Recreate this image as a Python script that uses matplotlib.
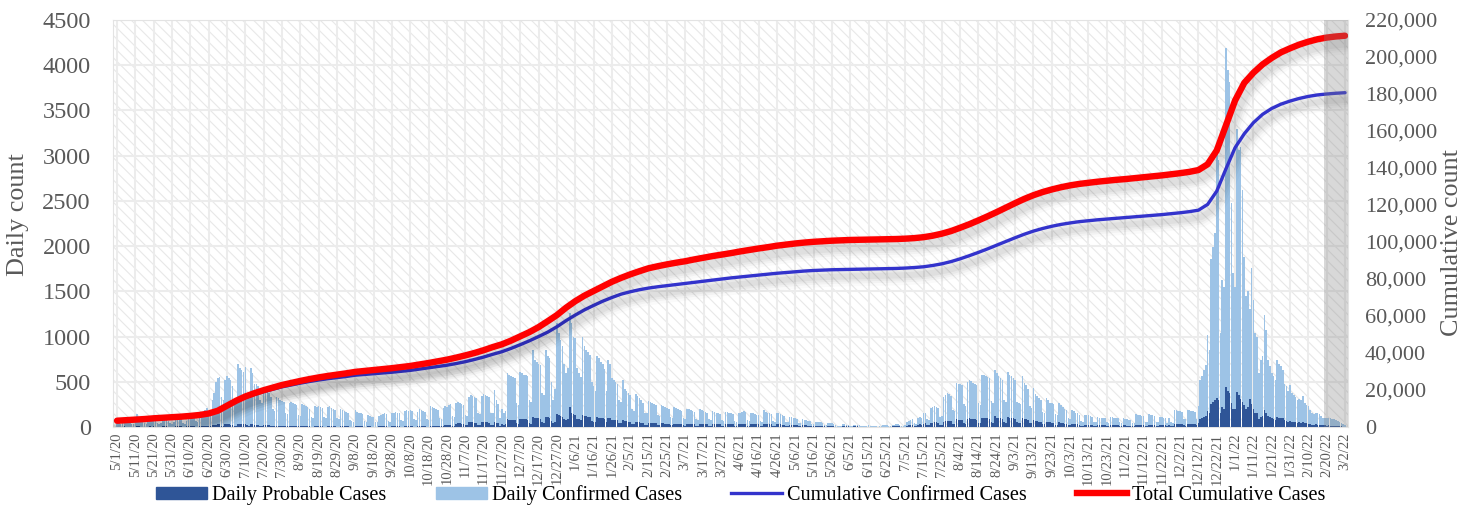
import numpy as np
import pandas as pd
import matplotlib
matplotlib.use('Agg')
import matplotlib.pyplot as plt
import matplotlib.patheffects as pe
from matplotlib.patches import Rectangle
from matplotlib.lines import Line2D
from matplotlib.ticker import FuncFormatter, MultipleLocator

# daily counts, one row = 10 days starting 5/1/20
START = '2020-05-01'

confirmed = [
    70, 40, 35, 60, 75, 80, 70, 65, 35, 30,
    55, 145, 80, 75, 70, 40, 30, 60, 75, 70,
    80, 75, 40, 30, 45, 70, 80, 75, 70, 40,
    35, 60, 85, 80, 90, 85, 45, 35, 70, 95,
    100, 110, 120, 70, 60, 130, 150, 170, 190, 210,
    180, 160, 300, 380, 500, 540, 555, 330, 300, 520,
    560, 540, 520, 450, 300, 280, 700, 650, 630, 610,
    660, 380, 350, 650, 600, 470, 480, 450, 300, 260,
    420, 410, 400, 380, 330, 200, 180, 330, 320, 300,
    290, 280, 150, 140, 270, 280, 260, 250, 240, 130,
    120, 250, 240, 230, 220, 200, 110, 100, 230, 220,
    230, 220, 210, 110, 100, 220, 230, 210, 200, 190,
    100, 90, 200, 190, 180, 170, 160, 80, 70, 60,
    190, 170, 160, 150, 140, 70, 60, 130, 120, 110,
    110, 60, 50, 120, 130, 140, 150, 140, 70, 60,
    150, 160, 170, 160, 150, 80, 70, 180, 190, 180,
    190, 180, 90, 80, 170, 200, 190, 180, 170, 90,
    80, 230, 220, 210, 200, 190, 100, 90, 210, 230,
    220, 240, 250, 120, 110, 260, 280, 270, 250, 240,
    130, 120, 330, 350, 340, 330, 320, 150, 140, 340,
    360, 350, 340, 330, 160, 150, 410, 300, 250, 100,
    200, 150, 180, 600, 580, 560, 550, 540, 260, 240,
    610, 600, 580, 570, 560, 300, 280, 850, 740, 720,
    700, 680, 380, 350, 850, 790, 760, 500, 300, 420,
    1150, 1040, 960, 900, 700, 600, 650, 1260, 1150, 1000,
    980, 650, 600, 550, 1000, 900, 850, 830, 800, 500,
    450, 400, 780, 760, 720, 700, 640, 400, 740, 700,
    540, 520, 500, 480, 300, 280, 520, 420, 400, 380,
    350, 200, 180, 360, 340, 320, 300, 270, 160, 150,
    290, 280, 260, 250, 240, 130, 120, 240, 230, 220,
    210, 200, 110, 100, 220, 210, 200, 190, 180, 100,
    90, 200, 200, 190, 180, 170, 90, 80, 200, 190,
    180, 170, 160, 90, 80, 180, 170, 160, 150, 140,
    80, 70, 170, 170, 160, 150, 140, 70, 60, 160,
    160, 170, 175, 170, 80, 70, 160, 150, 140, 130,
    130, 70, 60, 190, 170, 160, 150, 140, 70, 60,
    160, 150, 140, 130, 120, 60, 50, 115, 110, 100,
    95, 90, 45, 40, 85, 80, 75, 70, 65, 35,
    30, 60, 60, 55, 50, 45, 25, 20, 45, 40,
    40, 35, 20, 15, 10, 15, 35, 30, 25, 25,
    10, 10, 25, 20, 20, 18, 15, 8, 8, 15,
    18, 15, 15, 12, 6, 5, 15, 15, 20, 18,
    20, 8, 6, 22, 25, 30, 28, 25, 10, 8,
    20, 60, 70, 80, 85, 40, 35, 100, 110, 105,
    150, 160, 90, 80, 210, 220, 230, 225, 215, 110,
    120, 330, 350, 375, 360, 340, 190, 180, 490, 480,
    470, 460, 250, 230, 500, 520, 510, 490, 470, 460,
    260, 240, 575, 570, 560, 555, 540, 290, 270, 630,
    600, 560, 540, 520, 300, 280, 610, 580, 560, 540,
    520, 280, 260, 250, 560, 490, 460, 420, 230, 210,
    430, 370, 340, 320, 300, 170, 160, 320, 300, 270,
    260, 250, 140, 130, 270, 240, 220, 200, 190, 100,
    90, 190, 180, 160, 150, 130, 70, 60, 130, 130,
    130, 120, 110, 55, 50, 110, 105, 100, 100, 95,
    50, 45, 110, 110, 105, 100, 95, 50, 45, 100,
    90, 85, 80, 80, 40, 40, 140, 135, 130, 120,
    120, 60, 55, 140, 135, 130, 120, 60, 55, 110,
    110, 105, 100, 40, 100, 50, 45, 190, 185, 180,
    175, 170, 90, 85, 190, 185, 180, 175, 170, 90,
    230, 520, 560, 630, 690, 1020, 850, 1860, 1990, 2140,
    3030, 2950, 1040, 1630, 1550, 4190, 3950, 3820, 2480, 1700,
    1550, 3300, 3060, 3100, 2620, 1880, 1450, 1500, 1300, 1760,
    1400, 1040, 990, 600, 740, 780, 1240, 1070, 740, 670,
    600, 560, 520, 740, 700, 670, 630, 480, 450, 400,
    460, 380, 350, 330, 300, 310, 300, 340, 260, 240,
    230, 190, 150, 140, 160, 150, 140, 120, 100, 100,
    95, 100, 95, 90, 85, 80, 70, 60, 40, 30,
    20,
]

probable = [
    5, 2, 2, 4, 6, 5, 4, 5, 2, 1,
    4, 8, 6, 5, 5, 2, 2, 5, 6, 5,
    6, 5, 2, 2, 3, 6, 7, 6, 5, 2,
    2, 5, 7, 6, 7, 6, 3, 2, 6, 8,
    8, 9, 10, 5, 4, 10, 12, 12, 14, 15,
    10, 8, 18, 20, 25, 28, 30, 15, 14, 28,
    30, 28, 26, 22, 14, 12, 35, 32, 30, 30,
    32, 18, 16, 30, 28, 24, 24, 22, 14, 12,
    20, 20, 19, 18, 16, 10, 9, 16, 15, 14,
    14, 13, 7, 7, 13, 14, 13, 12, 12, 6,
    6, 12, 12, 11, 11, 10, 5, 5, 11, 11,
    11, 11, 10, 5, 5, 11, 11, 10, 10, 9,
    5, 4, 10, 9, 9, 8, 8, 4, 3, 3,
    9, 8, 8, 7, 7, 3, 3, 6, 6, 5,
    5, 3, 3, 6, 6, 7, 7, 7, 3, 3,
    7, 8, 8, 8, 7, 4, 3, 9, 9, 9,
    9, 9, 4, 4, 8, 10, 10, 9, 8, 4,
    4, 15, 14, 14, 13, 12, 6, 6, 15, 18,
    18, 20, 22, 10, 10, 35, 40, 40, 38, 36,
    18, 17, 50, 52, 50, 48, 46, 22, 20, 50,
    55, 52, 50, 48, 24, 22, 60, 45, 40, 15,
    30, 25, 28, 85, 82, 80, 78, 76, 40, 38,
    90, 88, 86, 84, 82, 40, 38, 110, 100, 98,
    95, 92, 50, 48, 115, 110, 105, 70, 40, 60,
    140, 130, 120, 110, 90, 80, 90, 225, 160, 140,
    135, 90, 85, 80, 130, 125, 120, 115, 110, 70,
    60, 55, 110, 105, 100, 95, 90, 55, 100, 95,
    80, 78, 75, 72, 45, 42, 75, 65, 62, 60,
    55, 30, 28, 55, 52, 50, 48, 45, 25, 24,
    48, 46, 44, 42, 40, 22, 20, 42, 40, 38,
    36, 35, 18, 17, 38, 36, 35, 34, 32, 17,
    16, 36, 35, 34, 33, 32, 16, 15, 35, 34,
    33, 32, 31, 16, 15, 34, 33, 32, 31, 30,
    15, 14, 33, 32, 31, 30, 29, 14, 13, 32,
    32, 33, 34, 33, 16, 15, 32, 31, 30, 29,
    28, 14, 13, 35, 33, 32, 31, 30, 15, 14,
    30, 29, 28, 27, 26, 13, 12, 24, 23, 22,
    21, 20, 10, 9, 19, 18, 17, 16, 15, 8,
    7, 14, 14, 13, 12, 11, 6, 5, 11, 10,
    10, 9, 5, 4, 3, 4, 9, 8, 7, 7,
    3, 3, 7, 6, 6, 5, 5, 2, 2, 4,
    5, 4, 4, 4, 2, 2, 4, 4, 5, 5,
    5, 2, 2, 6, 7, 8, 8, 7, 3, 2,
    5, 15, 18, 20, 22, 10, 9, 25, 28, 27,
    38, 40, 20, 18, 45, 48, 50, 50, 48, 25,
    26, 60, 65, 70, 68, 65, 35, 33, 85, 82,
    80, 78, 40, 38, 90, 95, 92, 88, 85, 82,
    45, 42, 100, 98, 96, 94, 92, 50, 48, 120,
    105, 100, 96, 92, 50, 48, 110, 105, 100, 96,
    92, 50, 45, 44, 100, 90, 85, 80, 42, 40,
    80, 70, 65, 60, 56, 30, 28, 60, 56, 50,
    48, 46, 25, 24, 50, 45, 42, 38, 36, 18,
    17, 36, 34, 30, 28, 25, 13, 12, 25, 25,
    25, 23, 21, 11, 10, 21, 20, 19, 19, 18,
    9, 9, 21, 21, 20, 19, 18, 9, 9, 19,
    17, 16, 15, 15, 8, 8, 27, 26, 25, 23,
    23, 12, 11, 27, 26, 25, 23, 12, 11, 21,
    21, 20, 19, 8, 19, 10, 9, 36, 35, 34,
    33, 32, 17, 16, 36, 35, 34, 33, 32, 17,
    40, 90, 100, 110, 120, 180, 150, 250, 280, 300,
    320, 300, 150, 220, 200, 440, 400, 380, 260, 200,
    200, 390, 350, 310, 280, 240, 200, 220, 310, 250,
    200, 160, 150, 90, 110, 120, 190, 160, 120, 110,
    100, 90, 80, 110, 105, 100, 95, 75, 70, 60,
    70, 60, 55, 52, 48, 50, 48, 55, 42, 40,
    38, 32, 25, 24, 28, 26, 24, 20, 17, 17,
    16, 17, 16, 15, 14, 13, 12, 10, 7, 5,
    3,
]

# cumulative totals read every 5 days from 5/1/20
CUM_STEP = 5
cum_total = [
    3400, 3700, 4000, 4300, 4700, 5000, 5300, 5600, 6000, 6500,
    7300, 8800, 11500, 14200, 16500, 18300, 19900, 21300, 22700, 23800,
    24900, 25900, 26800, 27600, 28300, 29000, 29800, 30300, 30800, 31300,
    31800, 32400, 33000, 33800, 34600, 35500, 36400, 37500, 38700, 40000,
    41500, 43200, 44700, 46700, 49000, 51300, 54000, 57200, 60500, 64500,
    68000, 71000, 73500, 76000, 78500, 80600, 82500, 84200, 85800, 86900,
    87900, 88800, 89600, 90600, 91500, 92400, 93200, 94000, 94900, 95700,
    96500, 97200, 98000, 98600, 99200, 99700, 100100, 100400, 100700, 100900,
    101100, 101200, 101300, 101400, 101500, 101600, 101800, 102100, 102600, 103400,
    104500, 105900, 107700, 109600, 111700, 113900, 116200, 118600, 121000, 123300,
    125300, 127000, 128400, 129600, 130600, 131400, 132000, 132600, 133100, 133600,
    134000, 134500, 135000, 135500, 136000, 136600, 137200, 137900, 138900, 142000,
    149500, 163000, 176500, 186000, 191500, 196000, 199500, 202500, 204700, 206700,
    208300, 209600, 210500, 211100, 211500,
]
cum_confirmed = [
    3300, 3550, 3850, 4150, 4500, 4800, 5100, 5400, 5750, 6250,
    7000, 8500, 11100, 13700, 15900, 17600, 19100, 20400, 21700, 22700,
    23700, 24600, 25400, 26100, 26700, 27300, 28000, 28400, 28800, 29200,
    29600, 30100, 30600, 31300, 32000, 32700, 33400, 34300, 35300, 36500,
    37800, 39300, 40700, 42500, 44500, 46600, 48900, 51300, 54200, 57500,
    60500, 63300, 65700, 68000, 70000, 71800, 73100, 74200, 75100, 75800,
    76400, 77000, 77600, 78200, 78800, 79400, 80000, 80600, 81100, 81600,
    82100, 82600, 83100, 83500, 83900, 84300, 84600, 84800, 85000, 85100,
    85200, 85300, 85400, 85500, 85600, 85700, 85900, 86200, 86600, 87300,
    88200, 89400, 90900, 92600, 94400, 96300, 98300, 100300, 102300, 104200,
    105900, 107300, 108500, 109500, 110300, 111000, 111500, 112000, 112400, 112800,
    113200, 113600, 114000, 114400, 114800, 115300, 115800, 116400, 117200, 120300,
    127500, 139500, 151000, 158500, 164500, 169000, 172200, 174500, 176200, 177600,
    178700, 179500, 180000, 180400, 180700,
]

# last days still incomplete (shaded)
SHADE_FROM = '2022-02-18'

GREY = '#595959'
C_CONF = '#9dc3e6'
C_PROB = '#2f5597'
C_CUM = '#3333cc'
C_TOT = '#ff0000'
plt.rcParams['font.family'] = ['Liberation Serif', 'DejaVu Serif']
plt.rcParams['hatch.linewidth'] = 0.8

dates = pd.date_range(START, periods=len(confirmed))
days = np.arange(len(confirmed))
cum_days = np.arange(len(cum_total)) * CUM_STEP

fig = plt.figure(figsize=(14.74, 5.08), dpi=100)
ax = fig.add_axes([113 / 1474, 1 - 427 / 508, 1235 / 1474, 407 / 508])

# hatched plot background
ax.add_patch(Rectangle((0, 0), 1, 1, transform=ax.transAxes, facecolor='none',
                       edgecolor='#e8e8e8', hatch='\\\\\\', lw=0, zorder=0))

ax.bar(days, confirmed, width=0.85, color=C_CONF, lw=0, zorder=2)
ax.bar(days, probable, width=0.85, color=C_PROB, lw=0, zorder=3)

ax.set_xlim(-2.2, 671.6)
ax.set_ylim(0, 4500)
ax.yaxis.set_major_locator(MultipleLocator(500))
ax.set_xticks(days[::10])
ax.set_xticklabels([f'{d.month}/{d.day}/{d.year % 100}' for d in dates[::10]],
                   rotation=90, fontsize=10.5, color=GREY)
ax.tick_params(axis='x', length=0, pad=4)
ax.tick_params(axis='y', length=0, pad=16, labelsize=17.5, labelcolor=GREY)
ax.grid(True, color='#ececec', lw=1.5, zorder=1)
ax.set_axisbelow(True)
for s in ax.spines.values():
    s.set_color('#e3e3e3')

ax2 = ax.twinx()
ax2.set_ylim(0, 220000)
ax2.yaxis.set_major_locator(MultipleLocator(20000))
ax2.yaxis.set_major_formatter(FuncFormatter(lambda v, p: f'{int(v):,}'))
ax2.tick_params(axis='y', length=0, pad=12, labelsize=16, labelcolor=GREY)
for s in ax2.spines.values():
    s.set_visible(False)

fig.text(18 / 1474, 1 - 215 / 508, 'Daily count', rotation=90, ha='center',
         va='center', fontsize=18.8, color=GREY)
fig.text(1452 / 1474, 1 - 242 / 508, 'Cumulative count', rotation=90, ha='center',
         va='center', fontsize=18.8, color=GREY)


def shadow(lw):
    fx = []
    for extra, a in [(12, 0.02), (8, 0.03), (5, 0.035), (2, 0.04)]:
        fx.append(pe.SimpleLineShadow(offset=(2, -5), shadow_color='k', alpha=a,
                                      linewidth=lw + extra))
    fx.append(pe.Normal())
    return fx


ax2.plot(cum_days, cum_confirmed, color=C_CUM, lw=2.4, zorder=4,
         solid_capstyle='round', path_effects=shadow(2.4))
ax2.plot(cum_days, cum_total, color=C_TOT, lw=4.6, zorder=5,
         solid_capstyle='round', path_effects=shadow(4.6))

shade_start = (pd.Timestamp(SHADE_FROM) - dates[0]).days + 0.5
ax2.axvspan(shade_start, 671.6, color='#7f7f7f', alpha=0.3, lw=0, zorder=6)

handles = [Rectangle((0, 0), 1, 1, color=C_PROB), Rectangle((0, 0), 1, 1, color=C_CONF),
           Line2D([], [], color=C_CUM, lw=2.4), Line2D([], [], color=C_TOT, lw=4.6)]
fig.legend(handles,
           ['Daily Probable Cases', 'Daily Confirmed Cases',
            'Cumulative Confirmed Cases', 'Total Cumulative Cases'],
           loc='center', bbox_to_anchor=(741 / 1474, 1 - 495 / 508), ncol=4,
           frameon=False, fontsize=14.6, handlelength=2.5, handleheight=0.55,
           columnspacing=2.45, handletextpad=0.25, borderpad=0)

fig.savefig('out.png', dpi=100)
